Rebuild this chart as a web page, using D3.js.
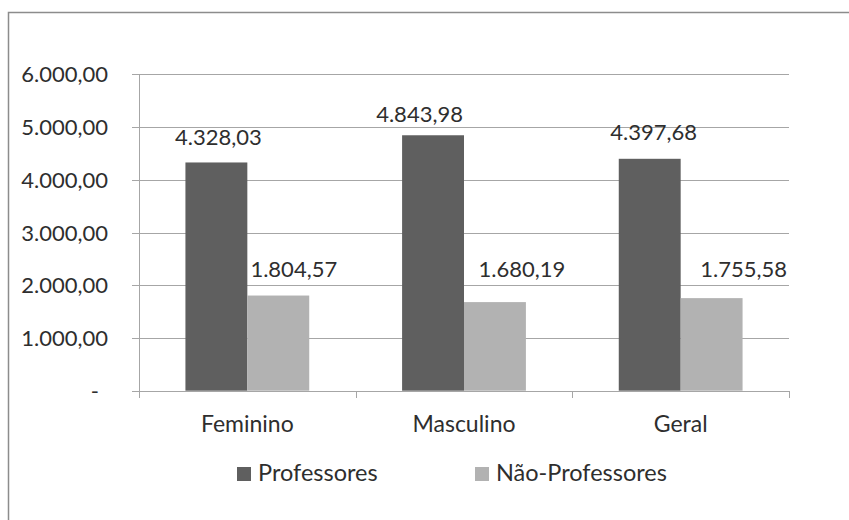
<!DOCTYPE html>
<html>
<head>
<meta charset="utf-8">
<script src="https://cdn.jsdelivr.net/npm/d3@7"></script>
<style>
  body { margin: 0; background: #fff; }
  text { font-family: Lato, "Open Sans", sans-serif; fill: #2e2e2e; }
</style>
</head>
<body>
<div id="chart"></div>
<script>
// chart values
var categories = ["Feminino", "Masculino", "Geral"];
var seriesNames = ["Professores", "Não-Professores"];
var professores = [4328.03, 4843.98, 4397.68];
var naoProfessores = [1804.57, 1680.19, 1755.58];
var yTicks = [0, 1000, 2000, 3000, 4000, 5000, 6000];

// data labels were hand-placed in the original, keep their nudges here
var labelDx = [[2, -13.5, 4], [15.5, 27, 32]];
var labelGap = [[17.5, 13.6, 18.8], [18.2, 25, 21]];

var width = 849, height = 520;
var colors = ["#5f5f5f", "#b2b2b2"];

var locale = d3.formatLocale({decimal: ",", thousands: ".", grouping: [3], currency: ["", ""]});
var fmt = locale.format(",.2f");

var svg = d3.select("#chart")
  .append("svg")
    .attr("width", width)
    .attr("height", height);

// outer chart border (only top/left visible)
svg.append("path")
  .attr("d", "M8.5," + height + "V12.5H" + width)
  .attr("fill", "none")
  .attr("stroke", "#8c8c8c")
  .attr("stroke-width", 1.5);

var x = d3.scaleBand()
  .domain(categories)
  .range([139, 789])
  .paddingInner(0)
  .paddingOuter(0);

var x1 = d3.scaleBand()
  .domain(seriesNames)
  .range([0, x.bandwidth()])
  .paddingInner(0)
  .paddingOuter(0.75);

var y = d3.scaleLinear()
  .domain([0, 6000])
  .range([390.7, 74.3]);

// gridlines
svg.append("g")
  .selectAll("line")
  .data(yTicks)
  .enter()
  .append("line")
    .attr("x1", 132)
    .attr("x2", 789)
    .attr("y1", function(d) { return Math.round(y(d)) + 0.5; })
    .attr("y2", function(d) { return Math.round(y(d)) + 0.5; })
    .attr("stroke", "#a6a6a6")
    .attr("stroke-width", 1);

// y axis labels
svg.append("g")
  .selectAll("text")
  .data(yTicks)
  .enter()
  .append("text")
    .attr("x", function(d) { return d === 0 ? 99 : 108; })
    .attr("y", function(d) { return y(d) + 8; })
    .attr("text-anchor", "end")
    .style("font-size", "22px")
    .text(function(d) { return d === 0 ? "-" : fmt(d); });

// y axis line + category ticks
svg.append("line")
  .attr("x1", 139.5).attr("x2", 139.5)
  .attr("y1", y(6000)).attr("y2", 398)
  .attr("stroke", "#a6a6a6");

var catEdges = categories.map(function(c) { return x(c); }).concat([x.range()[1]]);
svg.append("g")
  .selectAll("line")
  .data(catEdges)
  .enter()
  .append("line")
    .attr("x1", function(d) { return Math.round(d) + 0.5; })
    .attr("x2", function(d) { return Math.round(d) + 0.5; })
    .attr("y1", Math.round(y(0)))
    .attr("y2", 398)
    .attr("stroke", "#a6a6a6");

// bars
var series = [professores, naoProfessores];
var groups = svg.append("g")
  .selectAll("g")
  .data(series)
  .enter()
  .append("g")
    .attr("fill", function(d, i) { return colors[i]; });

groups.selectAll("rect")
  .data(function(d, i) { return d.map(function(v, j) { return {s: i, c: j, v: v}; }); })
  .enter()
  .append("rect")
    .attr("x", function(d) { return x(categories[d.c]) + x1(seriesNames[d.s]); })
    .attr("y", function(d) { return y(d.v); })
    .attr("width", x1.bandwidth())
    .attr("height", function(d) { return y(0) - y(d.v); });

// value labels
groups.selectAll("text")
  .data(function(d, i) { return d.map(function(v, j) { return {s: i, c: j, v: v}; }); })
  .enter()
  .append("text")
    .attr("x", function(d) {
      return x(categories[d.c]) + x1(seriesNames[d.s]) + x1.bandwidth() / 2 + labelDx[d.s][d.c];
    })
    .attr("y", function(d) { return y(d.v) - labelGap[d.s][d.c]; })
    .attr("text-anchor", "middle")
    .style("font-size", "22px")
    .text(function(d) { return fmt(d.v); });

// category labels
svg.append("g")
  .selectAll("text")
  .data(categories)
  .enter()
  .append("text")
    .attr("x", function(d) { return x(d) + x.bandwidth() / 2; })
    .attr("y", 432)
    .attr("text-anchor", "middle")
    .style("font-size", "23px")
    .text(function(d) { return d; });

// legend
var legendX = [237, 475];
var legend = svg.append("g")
  .selectAll("g")
  .data(seriesNames)
  .enter()
  .append("g")
    .attr("transform", function(d, i) { return "translate(" + legendX[i] + ",467)"; });

legend.append("rect")
  .attr("width", 14)
  .attr("height", 14)
  .attr("fill", function(d, i) { return colors[i]; });

legend.append("text")
  .attr("x", 21)
  .attr("y", 14)
  .style("font-size", "23.5px")
  .text(function(d) { return d; });
</script>
</body>
</html>
